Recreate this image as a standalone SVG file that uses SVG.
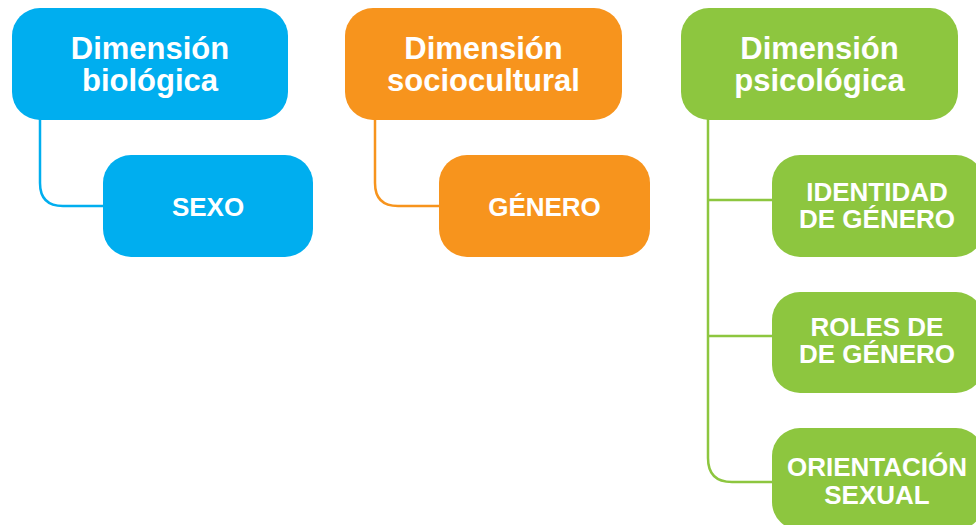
<svg xmlns="http://www.w3.org/2000/svg" width="976" height="525" viewBox="0 0 976 525">
<style>
.box{stroke:none}
.b{fill:#00AEEF}.o{fill:#F7941D}.g{fill:#8DC63F}
.t{font-family:"Liberation Sans",Arial,sans-serif;font-weight:bold;fill:#fff;text-anchor:middle}
.h{font-size:31px}
.s{font-size:26px}
.c{fill:none;stroke-width:2.5}
</style>
<rect width="976" height="525" fill="#fff"/>
<g id="connectors">
<path class="c" stroke="#00AEEF" d="M40 118 V183 Q40 206 63 206 H105"/>
<path class="c" stroke="#F7941D" d="M375 118 V183 Q375 206 398 206 H441"/>
<path class="c" stroke="#8DC63F" d="M708 118 V458 Q708 482 732 482 H774 M708 200 H774 M708 336 H774"/>
</g>
<g id="n-biologica">
<rect class="box b" x="12" y="8" width="276" height="112" rx="28"/>
<text class="t h" x="150" y="59">Dimensión</text>
<text class="t h" x="150" y="91">biológica</text>
</g>
<g id="n-sexo">
<rect class="box b" x="103" y="155" width="210" height="102" rx="28"/>
<text class="t s" x="208" y="216">SEXO</text>
</g>
<g id="n-sociocultural">
<rect class="box o" x="345" y="8" width="277" height="112" rx="28"/>
<text class="t h" x="483.5" y="59">Dimensión</text>
<text class="t h" x="483.5" y="91">sociocultural</text>
</g>
<g id="n-genero">
<rect class="box o" x="439" y="155" width="211" height="102" rx="28"/>
<text class="t s" x="544.5" y="216">GÉNERO</text>
</g>
<g id="n-psicologica">
<rect class="box g" x="681" y="8" width="277" height="112" rx="28"/>
<text class="t h" x="819.5" y="59">Dimensión</text>
<text class="t h" x="819.5" y="91">psicológica</text>
</g>
<g id="n-identidad">
<rect class="box g" x="772" y="155" width="212" height="102" rx="28"/>
<text class="t s" x="877" y="201">IDENTIDAD</text>
<text class="t s" x="877" y="228">DE GÉNERO</text>
</g>
<g id="n-roles">
<rect class="box g" x="772" y="292" width="212" height="101" rx="28"/>
<text class="t s" x="877" y="336">ROLES DE</text>
<text class="t s" x="877" y="363">DE GÉNERO</text>
</g>
<g id="n-orientacion">
<rect class="box g" x="772" y="428" width="212" height="102" rx="28"/>
<text class="t s" x="877" y="476">ORIENTACIÓN</text>
<text class="t s" x="877" y="504">SEXUAL</text>
</g>
</svg>
